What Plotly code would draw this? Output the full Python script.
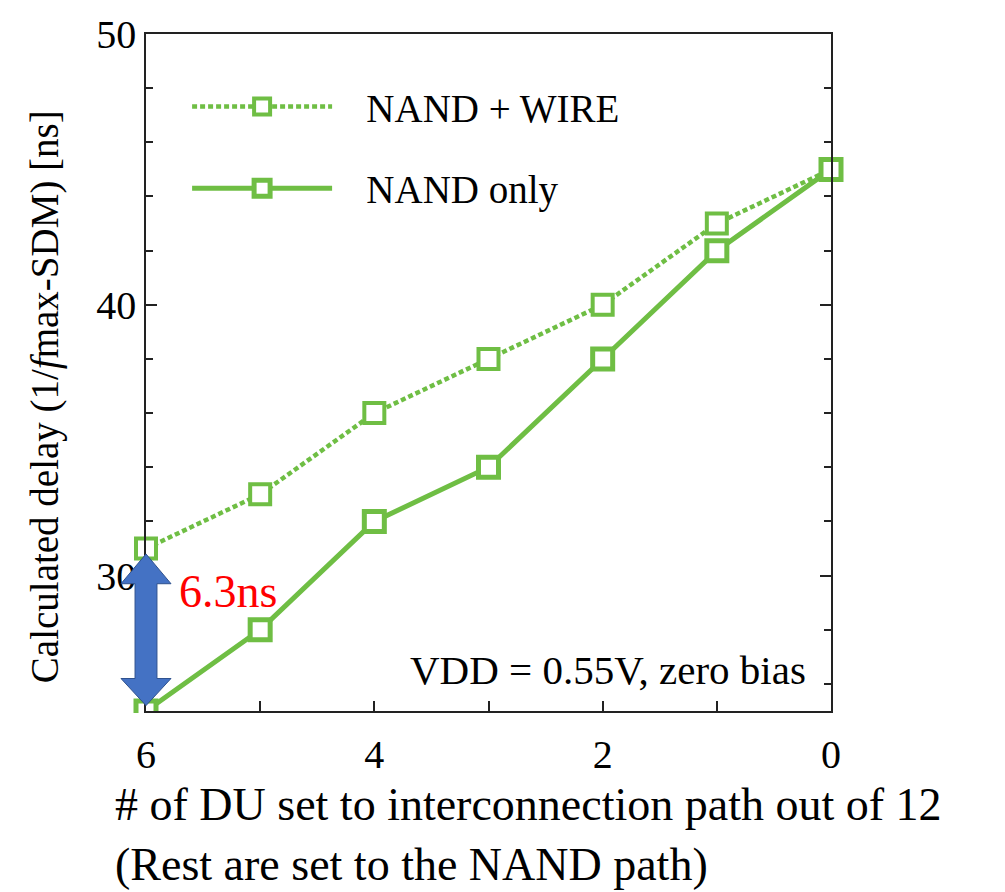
import plotly.graph_objects as go

# ---- data ----
du_count = [6, 5, 4, 3, 2, 1, 0]
nand_wire = [31.0, 33.0, 36.0, 38.0, 40.0, 43.0, 45.0]
nand_only = [25.0, 28.0, 32.0, 34.0, 38.0, 42.0, 45.0]
x_tick_vals = [6, 4, 2, 0]
y_tick_vals = [30, 40, 50]

GREEN = "#6FBE44"
FONT = "Liberation Serif"
NBSP = "\u00a0"

fig = go.Figure()

fig.add_trace(go.Scatter(
    x=du_count, y=nand_wire, mode="lines+markers", name=NBSP * 3 + "NAND + WIRE",
    legendgroup="a",
    line=dict(color=GREEN, width=4.5, dash="5px,3px"),
    marker=dict(symbol="square", size=20, color="white",
                line=dict(color=GREEN, width=4)),
    cliponaxis=False,
))
fig.add_trace(go.Scatter(
    x=du_count, y=nand_only, mode="lines+markers", name=NBSP * 3 + "NAND only",
    legendgroup="b",
    line=dict(color=GREEN, width=5),
    marker=dict(symbol="square", size=20, color="white",
                line=dict(color=GREEN, width=5)),
    cliponaxis=False,
))

axis_common = dict(
    showline=True, linecolor="#222", linewidth=1.5,
    ticks="inside", tickcolor="#222", tickwidth=1.5,
    showgrid=False, zeroline=False,
    tickfont=dict(family=FONT, size=40, color="black"),
)

fig.update_xaxes(
    range=[6, 0], tickvals=x_tick_vals, ticklen=10, mirror=True,
    minor=dict(dtick=1, ticks="inside", ticklen=10, tickcolor="#222", tickwidth=1.5),
    ticklabelstandoff=7,
    **axis_common,
)
fig.update_yaxes(
    range=[25, 50], tickvals=y_tick_vals, ticklen=11, mirror="ticks",
    minor=dict(dtick=2, ticks="inside", ticklen=7, tickcolor="#222", tickwidth=1.5),
    ticklabelstandoff=0,
    **axis_common,
)

# mask so the clipped bottom-left marker looks cut at the axis
fig.add_shape(type="rect", xref="paper", yref="paper",
              x0=-0.05, x1=0.05, y0=-0.03, y1=-0.003,
              fillcolor="white", line=dict(width=0), layer="above")

# blue double arrow (6.3 ns gap)
cx, hs, hh = 0.0, 0.016, 0.0365
y_top, y_hb_top, y_hb_bot, y_bot = 30.8, 29.7, 26.2, 25.2
path = (f"M {cx},{y_top} L {cx+hh},{y_hb_top} L {cx+hs},{y_hb_top} "
        f"L {cx+hs},{y_hb_bot} L {cx+hh},{y_hb_bot} L {cx},{y_bot} "
        f"L {cx-hh},{y_hb_bot} L {cx-hs},{y_hb_bot} L {cx-hs},{y_hb_top} "
        f"L {cx-hh},{y_hb_top} Z")
fig.add_shape(type="path", xref="x domain", yref="y", path=path,
              fillcolor="#4472C4", line=dict(color="#2F528F", width=1),
              layer="above")

ann_font = dict(family=FONT, color="black")
fig.add_annotation(text="6.3ns", xref="paper", yref="paper", x=0.045, y=0.1766,
                   xanchor="left", yanchor="middle", showarrow=False,
                   font=dict(family=FONT, size=46, color="#FF0000"))
fig.add_annotation(text="VDD = 0.55V, zero bias", xref="paper", yref="paper",
                   x=0.966, y=0.06, xanchor="right", yanchor="middle",
                   showarrow=False, font=dict(size=41, **ann_font))
fig.add_annotation(text="# of DU set to interconnection path out of 12<br>"
                        "(Rest are set to the NAND path)",
                   xref="paper", yref="paper", x=-0.048, y=-0.1825,
                   xanchor="left", yanchor="middle", align="left",
                   showarrow=False, font=dict(size=46, **ann_font))
fig.add_annotation(text="Calculated delay (1/<i>f</i>max-SDM) [ns]",
                   xref="paper", yref="paper", x=-0.147, y=0.464,
                   xanchor="center", yanchor="middle", textangle=-90,
                   showarrow=False, font=dict(size=39, **ann_font))

fig.update_layout(
    width=1005, height=892,
    margin=dict(l=146, r=174, t=26, b=181),
    paper_bgcolor="white", plot_bgcolor="white",
    showlegend=True,
    legend=dict(x=0.06, y=0.94, xanchor="left", yanchor="top",
                bgcolor="rgba(0,0,0,0)", borderwidth=0,
                font=dict(family=FONT, size=39, color="black"),
                itemwidth=140, tracegroupgap=28, traceorder="grouped"),
)

fig.write_html("out.html")
